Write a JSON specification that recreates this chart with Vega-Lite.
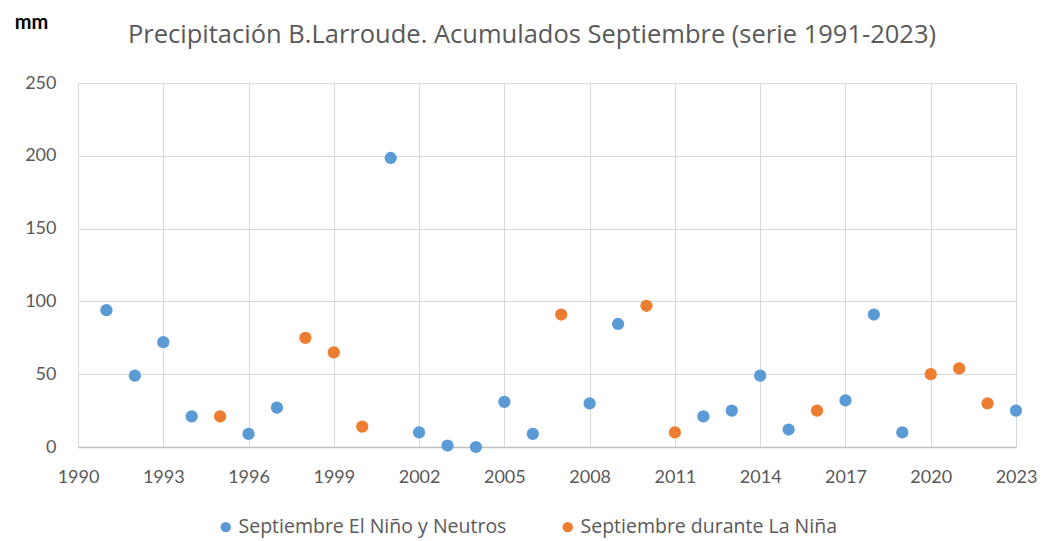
{
  "$schema": "https://vega.github.io/schema/vega-lite/v6.json",
  "width": 938,
  "height": 364,
  "autosize": "none",
  "padding": {"left": 78, "top": 83, "right": 25, "bottom": 94},
  "background": "white",
  "title": {
    "text": "Precipitación B.Larroude. Acumulados Septiembre (serie 1991-2023)",
    "font": "Open Sans",
    "fontSize": 25.5,
    "fontWeight": "normal",
    "color": "#595959",
    "anchor": "middle",
    "dx": -15,
    "offset": -36
  },
  "data": {
    "values": [
      {"year": 1991, "mm": 94, "serie": "Septiembre El Niño y  Neutros"},
      {"year": 1992, "mm": 49, "serie": "Septiembre El Niño y  Neutros"},
      {"year": 1993, "mm": 72, "serie": "Septiembre El Niño y  Neutros"},
      {"year": 1994, "mm": 21, "serie": "Septiembre El Niño y  Neutros"},
      {"year": 1995, "mm": 21, "serie": "Septiembre durante La Niña"},
      {"year": 1996, "mm": 9, "serie": "Septiembre El Niño y  Neutros"},
      {"year": 1997, "mm": 27, "serie": "Septiembre El Niño y  Neutros"},
      {"year": 1998, "mm": 75, "serie": "Septiembre durante La Niña"},
      {"year": 1999, "mm": 65, "serie": "Septiembre durante La Niña"},
      {"year": 2000, "mm": 14, "serie": "Septiembre durante La Niña"},
      {"year": 2001, "mm": 198.5, "serie": "Septiembre El Niño y  Neutros"},
      {"year": 2002, "mm": 10, "serie": "Septiembre El Niño y  Neutros"},
      {"year": 2003, "mm": 1, "serie": "Septiembre El Niño y  Neutros"},
      {"year": 2004, "mm": 0, "serie": "Septiembre El Niño y  Neutros"},
      {"year": 2005, "mm": 31, "serie": "Septiembre El Niño y  Neutros"},
      {"year": 2006, "mm": 9, "serie": "Septiembre El Niño y  Neutros"},
      {"year": 2007, "mm": 91, "serie": "Septiembre durante La Niña"},
      {"year": 2008, "mm": 30, "serie": "Septiembre El Niño y  Neutros"},
      {"year": 2009, "mm": 84.5, "serie": "Septiembre El Niño y  Neutros"},
      {"year": 2010, "mm": 97, "serie": "Septiembre durante La Niña"},
      {"year": 2011, "mm": 10, "serie": "Septiembre durante La Niña"},
      {"year": 2012, "mm": 21, "serie": "Septiembre El Niño y  Neutros"},
      {"year": 2013, "mm": 25, "serie": "Septiembre El Niño y  Neutros"},
      {"year": 2014, "mm": 49, "serie": "Septiembre El Niño y  Neutros"},
      {"year": 2015, "mm": 12, "serie": "Septiembre El Niño y  Neutros"},
      {"year": 2016, "mm": 25, "serie": "Septiembre durante La Niña"},
      {"year": 2017, "mm": 32, "serie": "Septiembre El Niño y  Neutros"},
      {"year": 2018, "mm": 91, "serie": "Septiembre El Niño y  Neutros"},
      {"year": 2019, "mm": 10, "serie": "Septiembre El Niño y  Neutros"},
      {"year": 2020, "mm": 50, "serie": "Septiembre durante La Niña"},
      {"year": 2021, "mm": 54, "serie": "Septiembre durante La Niña"},
      {"year": 2022, "mm": 30, "serie": "Septiembre durante La Niña"},
      {"year": 2023, "mm": 25, "serie": "Septiembre El Niño y  Neutros"}
    ]
  },
  "mark": {"type": "circle", "size": 150, "opacity": 1},
  "encoding": {
    "x": {
      "field": "year",
      "type": "quantitative",
      "scale": {"domain": [1990, 2023], "nice": false, "zero": false},
      "axis": {
        "title": null,
        "values": [1990, 1993, 1996, 1999, 2002, 2005, 2008, 2011, 2014, 2017, 2020, 2023],
        "format": "d",
        "grid": true,
        "gridColor": "#D9D9D9",
        "gridWidth": 1,
        "domainColor": "#BFBFBF",
        "domainWidth": 1.5,
        "ticks": false,
        "labelFlush": false,
        "labelOverlap": false,
        "labelPadding": 21,
        "labelFont": "Lato",
        "labelFontSize": 18,
        "labelColor": "#595959"
      }
    },
    "y": {
      "field": "mm",
      "type": "quantitative",
      "scale": {"domain": [0, 250], "nice": false},
      "axis": {
        "title": "mm",
        "titleAngle": 0,
        "titleFont": "Lato",
        "titleFontSize": 20,
        "titleFontWeight": "bold",
        "titleColor": "#000000",
        "titleX": -47,
        "titleY": -61,
        "titleAlign": "center",
        "titleBaseline": "middle",
        "values": [0, 50, 100, 150, 200, 250],
        "grid": true,
        "gridColor": "#D9D9D9",
        "gridWidth": 1,
        "domain": false,
        "ticks": false,
        "labelPadding": 22,
        "labelFont": "Lato",
        "labelFontSize": 18,
        "labelColor": "#595959"
      }
    },
    "color": {
      "field": "serie",
      "type": "nominal",
      "scale": {
        "domain": ["Septiembre El Niño y  Neutros", "Septiembre durante La Niña"],
        "range": ["#5B9BD5", "#ED7D31"]
      },
      "legend": {
        "title": null,
        "orient": "none",
        "legendX": 138,
        "legendY": 434,
        "direction": "horizontal",
        "symbolType": "circle",
        "symbolSize": 110,
        "labelFont": "Open Sans",
        "labelFontSize": 19.5,
        "labelLimit": 400,
        "labelColor": "#595959",
        "labelOffset": 3,
        "columnPadding": 46
      }
    }
  },
  "config": {"view": {"stroke": null}}
}
